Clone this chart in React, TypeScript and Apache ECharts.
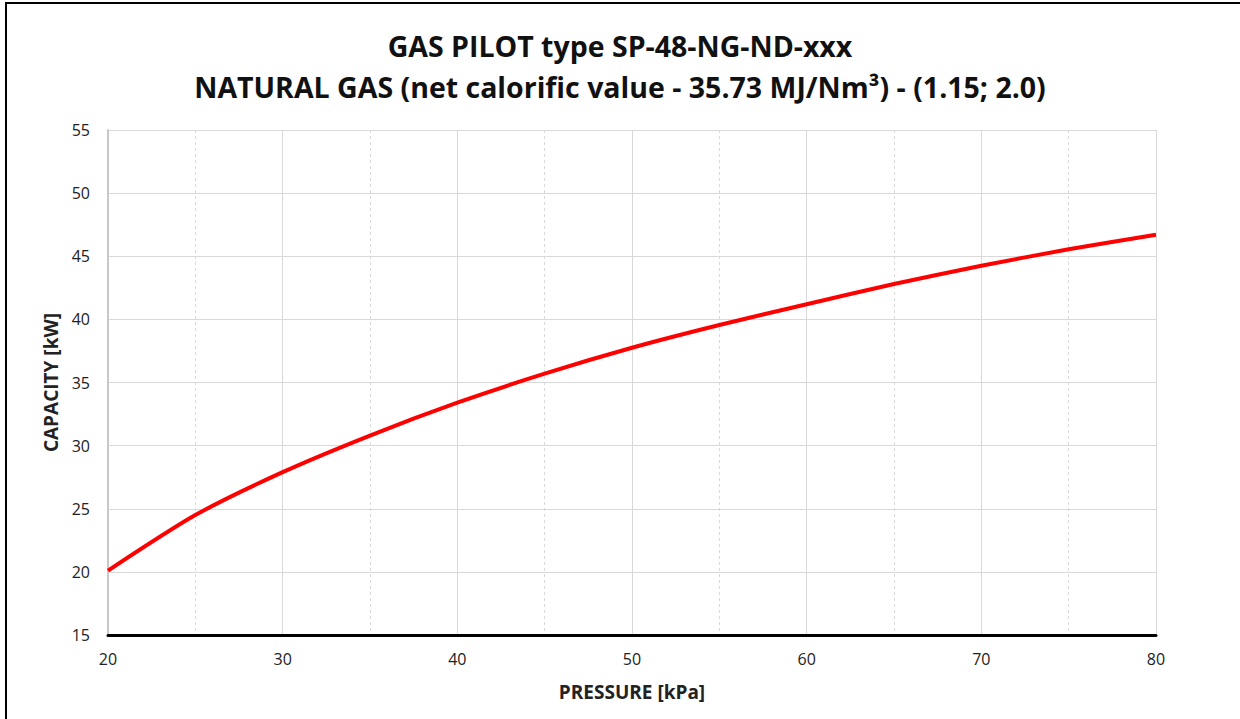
import React, { useEffect, useRef } from "react";
import * as echarts from "echarts";

const pressure = [20, 25, 30, 35, 40, 45, 50, 55, 60, 65, 70, 75, 80];
const capacity = [20.1, 24.5, 27.9, 30.8, 33.4, 35.7, 37.75, 39.55, 41.2, 42.8, 44.25, 45.55, 46.7];
const titleLine1 = "GAS PILOT type SP-48-NG-ND-xxx";
const titleLine2 = "NATURAL GAS (net calorific value - 35.73 MJ/Nm³) - (1.15; 2.0)";
const xName = "PRESSURE [kPa]";
const yName = "CAPACITY [kW]";

const FONT = "'Open Sans', 'Noto Sans', sans-serif";

export default function App() {
  const ref = useRef<HTMLDivElement>(null);
  useEffect(() => {
    if (!ref.current) return;
    const chart = echarts.init(ref.current, undefined, { renderer: "svg" });
    chart.setOption({
      animation: false,
      backgroundColor: "#ffffff",
      textStyle: { fontFamily: FONT },
      title: {
        text: titleLine1 + "\n" + titleLine2,
        left: "center",
        top: 20,
        textStyle: {
          fontFamily: FONT,
          fontSize: 28.5,
          fontWeight: "bold",
          color: "#111",
          lineHeight: 41,
        },
      },
      graphic: [
        {
          type: "rect",
          shape: { x: 6, y: 3, width: 1250, height: 730 },
          style: { fill: "none", stroke: "#000", lineWidth: 2 },
          silent: true,
          z: 100,
        },
      ],
      grid: { left: 108, right: 84, top: 130, bottom: 84, containLabel: false },
      xAxis: {
        type: "value",
        min: 20,
        max: 80,
        interval: 10,
        name: xName,
        nameLocation: "middle",
        nameGap: 47,
        nameTextStyle: { fontFamily: FONT, fontSize: 19, fontWeight: "bold", color: "#222" },
        axisLine: { show: true, lineStyle: { color: "#000", width: 3 } },
        axisTick: { show: false },
        axisLabel: { fontFamily: FONT, fontSize: 16, color: "#222", margin: 16 },
        splitLine: { show: true, lineStyle: { color: "#d9d9d9", width: 1 } },
        minorTick: { show: false, splitNumber: 2 },
        minorSplitLine: { show: true, lineStyle: { color: "#d9d9d9", width: 1, type: [3, 3] } },
      },
      yAxis: {
        type: "value",
        min: 15,
        max: 55,
        interval: 5,
        name: yName,
        nameLocation: "middle",
        nameGap: 46,
        nameTextStyle: { fontFamily: FONT, fontSize: 19, fontWeight: "bold", color: "#222" },
        axisLine: { show: true, lineStyle: { color: "#c8c8c8", width: 2 } },
        axisTick: { show: false },
        axisLabel: { fontFamily: FONT, fontSize: 16, color: "#222", margin: 18 },
        splitLine: { show: true, lineStyle: { color: "#d9d9d9", width: 1 } },
      },
      series: [
        {
          type: "line",
          data: pressure.map((p, i) => [p, capacity[i]]),
          smooth: 0.25,
          showSymbol: false,
          lineStyle: { color: "#ff0000", width: 4 },
          z: 10,
        },
      ],
    });
    return () => chart.dispose();
  }, []);
  return (
    <div
      ref={ref}
      style={{ position: "fixed", left: 0, top: 0, width: 1240, height: 719 }}
    />
  );
}
